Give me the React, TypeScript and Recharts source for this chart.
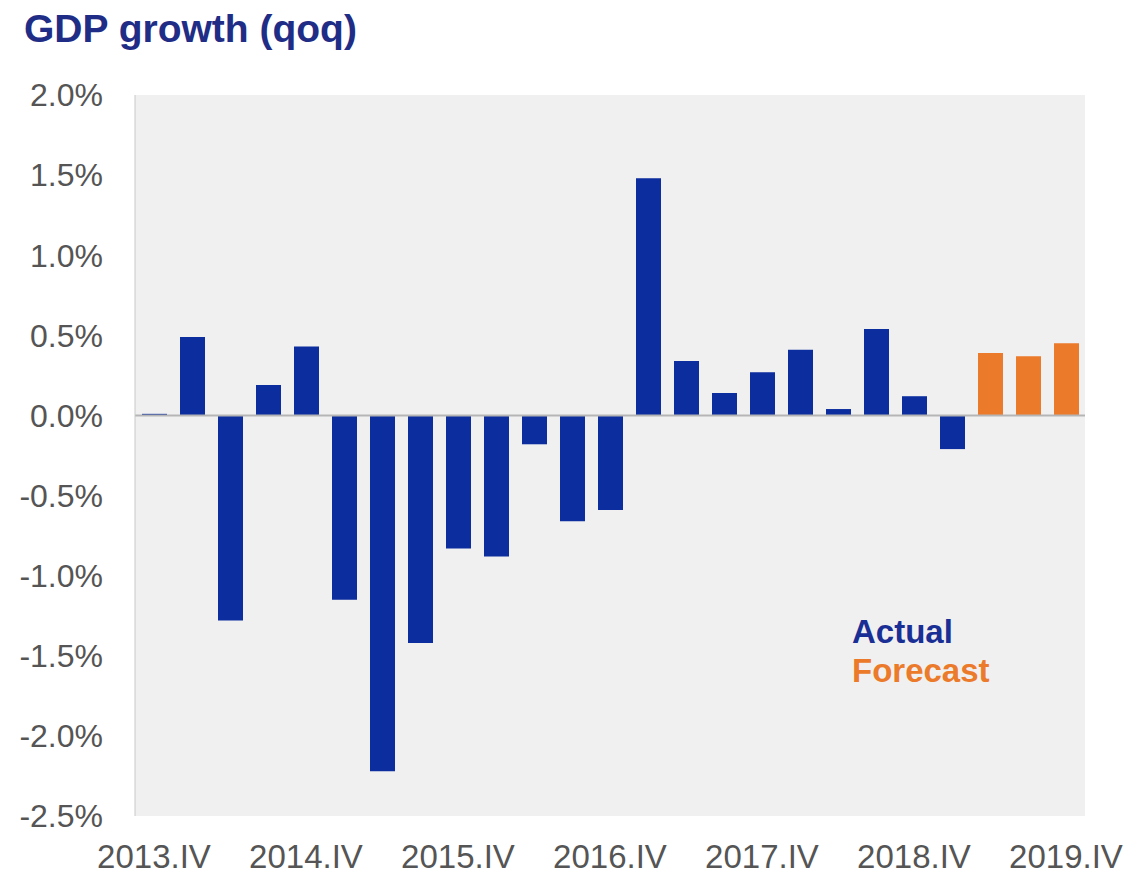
import { BarChart, Bar, XAxis, YAxis, CartesianGrid, ReferenceLine, Cell } from 'recharts'

const quarters = [
  '2013.IV', '2014.I', '2014.II', '2014.III', '2014.IV',
  '2015.I', '2015.II', '2015.III', '2015.IV',
  '2016.I', '2016.II', '2016.III', '2016.IV',
  '2017.I', '2017.II', '2017.III', '2017.IV',
  '2018.I', '2018.II', '2018.III', '2018.IV',
  '2019.I', '2019.II', '2019.III', '2019.IV',
]

// actual growth, 2013.IV .. 2019.I
const actual = [
  0.01, 0.49, -1.28, 0.19, 0.43, -1.15, -2.22, -1.42, -0.83, -0.88, -0.18,
  -0.66, -0.59, 1.48, 0.34, 0.14, 0.27, 0.41, 0.04, 0.54, 0.12, -0.21,
]

// forecast, 2019.II .. 2019.IV
const forecast = [0.39, 0.37, 0.45]

const yTicks = [-2.5, -2, -1.5, -1, -0.5, 0, 0.5, 1, 1.5, 2]

const BLUE = '#0b2d9e'
const ORANGE = '#ec7a2b'
const FONT = '"Liberation Sans", Arial, sans-serif'

const data = quarters.map((q, i) => ({
  quarter: q,
  growth: i < actual.length ? actual[i] : forecast[i - actual.length],
}))

export default function App() {
  return (
    <div style={{ position: 'absolute', left: 0, top: 0, width: 1133, height: 877, background: '#fff', fontFamily: FONT }}>
      <BarChart
        width={1133}
        height={877}
        data={data}
        margin={{ top: 95, right: 48, left: 0, bottom: 0 }}
      >
        <CartesianGrid fill="#f0f0f0" stroke="none" horizontal={false} vertical={false} />
        <XAxis
          dataKey="quarter"
          interval={3}
          height={61}
          tickSize={0}
          tickMargin={29}
          axisLine={false}
          tick={{ fill: '#555', fontSize: 33, fontFamily: FONT }}
        />
        <YAxis
          width={135}
          domain={[-2.5, 2]}
          ticks={yTicks}
          tickFormatter={(v: number) => `${v.toFixed(1)}%`}
          tickSize={0}
          tickMargin={32}
          axisLine={{ stroke: '#c8c8c8' }}
          tick={{ fill: '#555', fontSize: 32, fontFamily: FONT }}
        />
        <ReferenceLine y={0} stroke="#b5b5b5" strokeWidth={2} />
        <Bar dataKey="growth" barSize={25} isAnimationActive={false}>
          {data.map((_, i) => (
            <Cell key={i} fill={i < actual.length ? BLUE : ORANGE} />
          ))}
        </Bar>
      </BarChart>
      <div style={{ position: 'absolute', left: 24, top: 9, fontSize: 39, lineHeight: '39px', fontWeight: 'bold', color: '#1f2d86' }}>
        GDP growth (qoq)
      </div>
      <div style={{ position: 'absolute', left: 852, top: 615, fontSize: 33, lineHeight: '33px', fontWeight: 'bold', color: '#1a2f95' }}>
        Actual
      </div>
      <div style={{ position: 'absolute', left: 852, top: 654, fontSize: 33, lineHeight: '33px', fontWeight: 'bold', color: ORANGE }}>
        Forecast
      </div>
    </div>
  )
}
